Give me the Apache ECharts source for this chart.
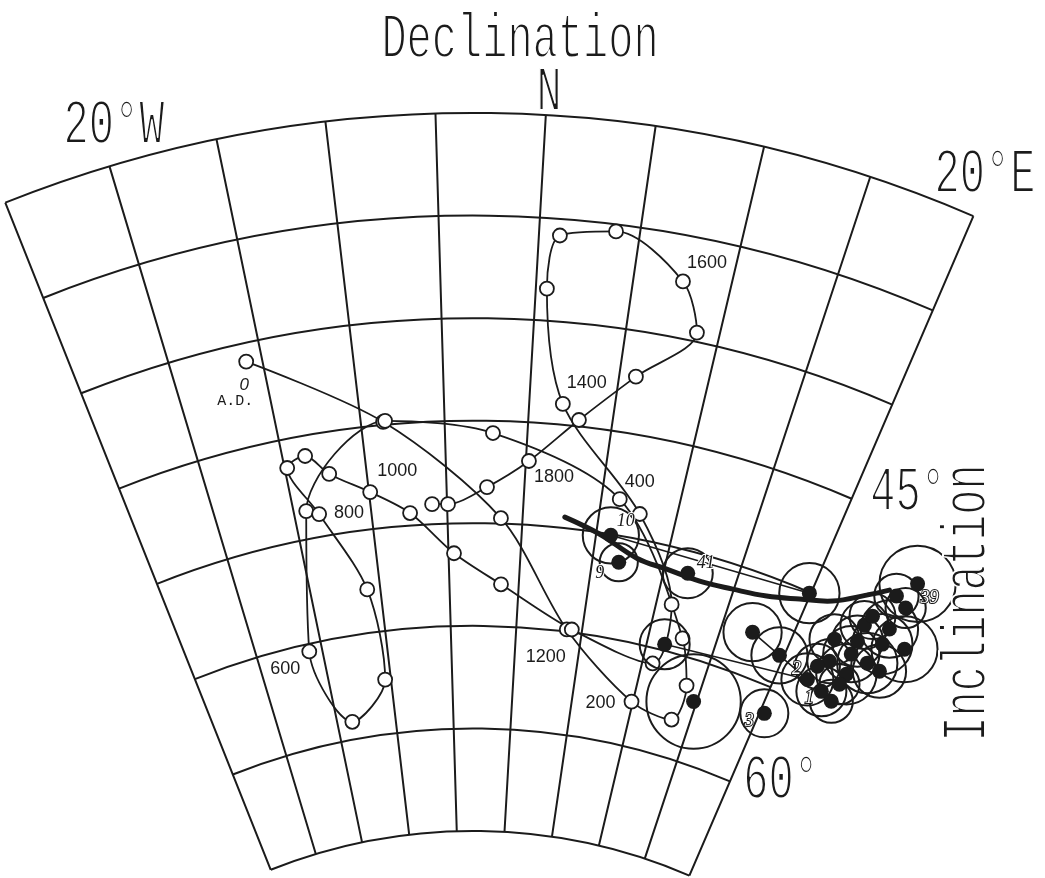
<!DOCTYPE html>
<html>
<head>
<meta charset="utf-8">
<title>Declination / Inclination</title>
<script src="https://cdn.jsdelivr.net/npm/echarts@6.0.0/dist/echarts.min.js"></script>
<style>
  html, body { margin: 0; padding: 0; background: #fff; }
  #main { width: 1045px; height: 878px; }
</style>
</head>
<body>
<div id="main"></div>
<script>
// secular variation curve, one open circle every 50 years
var curveYears = [0, 50, 100, 150, 200, 250, 300, 350, 400, 450,
    500, 550, 600, 650, 700, 750, 800, 850, 900, 950,
    1000, 1050, 1100, 1150, 1200, 1250, 1300, 1350, 1400, 1450,
    1500, 1550, 1600, 1650, 1700, 1750, 1800, 1850, 1900, 1950];
var curveDecl = [-15.88, -8.67, -1.44, 3.84, 9.89, 13.48, 13.84, 12.52, 6.18, -2.09,
    -8.55, -14.19, -16.00, -13.72, -10.47, -10.94, -13.40, -14.84, -13.62, -12.34,
    -9.92, -7.46, -4.62, -1.28, 4.22, 10.81, 11.10, 7.63, 1.97, 0.58,
    1.05, 3.81, 7.54, 8.79, 5.94, 3.01, 0.19, -2.40, -4.94, -5.98];
var curveIncl = [40.90, 44.85, 49.73, 54.89, 57.80, 58.14, 56.34, 54.19, 48.23, 45.59,
    44.81, 48.63, 55.36, 59.14, 57.35, 52.88, 48.89, 46.39, 45.98, 47.04,
    48.19, 49.39, 51.45, 52.95, 54.86, 55.75, 52.73, 48.77, 43.98, 38.44,
    35.81, 35.34, 37.24, 39.55, 42.21, 44.68, 46.88, 48.23, 49.05, 49.02];
var labelledYears = [0, 200, 400, 600, 800, 1000, 1200, 1400, 1600, 1800];

// site results (filled dots) with their alpha95 in degrees
var sampleName = ['10', '9', '41', '', '', '3', '', '', '', '2', '1', '', '', '',
    '', '', '', '', '', '', '39', '', '', '', '', '', '', '', ''];
var sampleDecl = [5.99, 6.83, 11.64, 11.34, 14.76, 20.37, 17.25, 19.68, 19.90, 22.28, 23.60, 22.77,
    24.29, 24.17, 25.85, 27.33, 24.65, 23.14, 25.58, 25.13, 25.94, 26.03, 24.54, 24.37,
    22.52, 24.25, 25.77, 26.60, 24.60];
var sampleIncl = [50.04, 51.27, 51.06, 54.70, 56.98, 56.29, 52.84, 53.40, 50.04, 53.91, 54.13, 51.57,
    51.85, 50.30, 50.70, 50.38, 52.83, 52.64, 51.87, 48.31, 47.30, 48.61, 53.42, 49.73,
    53.12, 51.15, 49.89, 51.92, 54.34];
var sampleA95 = [1.37, 0.93, 1.22, 1.22, 2.30, 1.17, 1.42, 1.37, 1.47, 1.27, 1.22, 1.22,
    1.37, 1.17, 1.47, 1.61, 1.47, 1.08, 1.47, 1.08, 1.86, 0.98, 0.98, 1.12,
    1.10, 1.25, 1.40, 1.30, 1.05];

// heavy trend line through the site results
var trendDecl = [2.79, 5.25, 8.00, 10.17, 12.58, 14.92, 17.28, 19.45, 21.53, 23.39, 24.56];
var trendIncl = [49.46, 50.07, 50.91, 51.12, 51.28, 51.18, 50.95, 50.49, 49.93, 48.95, 48.22];

// thin joins between some of the site results
var linkA = { decl: [5.99, 19.90], incl: [50.04, 50.04] };
var linkB = { decl: [11.34, 22.28], incl: [54.70, 53.91] };
var linkC = { decl: [17.25, 19.68, 22.28], incl: [52.84, 53.40, 53.91] };

// axis texts
var declTickLabels = ['20°W', 'N', '20°E'];
var inclTickLabels = ['45°', '60°'];

var INK = '#1b1b1b';
var R_IN = 547, R_OUT = 1265;
var PX_PER_DEG = (R_OUT - R_IN) / 35;

// where the year labels sit next to their circle
var yearLabelOffset = {
    0: [-11, 31], 200: [-31, 1], 400: [20, -17], 600: [-24, 18], 800: [30, -1],
    1000: [27, -21], 1200: [-26, 28], 1400: [24, -21], 1600: [24, -18], 1800: [25, 16]
};
var sampleLabelOffset = {
    '10': [15, -14], '9': [-19, 11], '41': [18, -10], '39': [12, 14],
    '2': [-11, -10], '1': [-12, 7], '3': [-15, 8]
};

function pairs(incl, decl) {
    return incl.map(function (v, i) { return [v, decl[i]]; });
}

var curveData = curveYears.map(function (yr, i) {
    var item = { value: [curveIncl[i], curveDecl[i]] };
    if (labelledYears.indexOf(yr) >= 0) {
        item.label = {
            show: true,
            position: 'inside',
            offset: yearLabelOffset[yr],
            formatter: yr === 0 ? '{a|0}\n{b|A.D.}' : String(yr)
        };
    }
    return item;
});

var dotData = sampleDecl.map(function (d, i) {
    var item = { value: [sampleIncl[i], d] };
    var name = sampleName[i];
    if (name) {
        var white = (name === '2' || name === '1' || name === '3' || name === '39');
        item.label = {
            show: true,
            position: 'inside',
            offset: sampleLabelOffset[name],
            formatter: name,
            color: white ? '#fff' : INK,
            textBorderColor: white ? INK : '#fff',
            textBorderWidth: 2
        };
    }
    return item;
});

var circleData = sampleDecl.map(function (d, i) {
    return [sampleIncl[i], d, sampleA95[i]];
});

// polylines drawn through the polar scales, not clipped to the sector
function pathSeries(incl, decl, width, smooth, z) {
    var pts = pairs(incl, decl);
    return {
        type: 'custom',
        coordinateSystem: 'polar',
        data: pts,
        silent: true,
        z: z,
        renderItem: function (params, api) {
            if (params.dataIndex !== 0) return null;
            return {
                type: 'polyline',
                shape: {
                    points: pts.map(function (p) { return api.coord(p); }),
                    smooth: smooth
                },
                style: { stroke: INK, lineWidth: width, fill: null, lineCap: 'round', lineJoin: 'round' }
            };
        }
    };
}

// thin plotter lettering: fill, then eat the edges with a white stroke
function bigText(text, x, y, rot) {
    var base = {
        x: x, y: y, rotation: rot || 0, scaleY: 1.5, silent: true
    };
    var style = {
        text: text,
        font: '42px "Liberation Mono"',
        align: 'center',
        verticalAlign: 'middle',
        textAlign: 'center',
        textVerticalAlign: 'middle'
    };
    var fillEl = Object.assign({ type: 'text', z: 10 }, base, {
        style: Object.assign({ fill: INK }, style)
    });
    var thinEl = Object.assign({ type: 'text', z: 11 }, base, {
        style: Object.assign({ fill: 'none', stroke: '#fff', lineWidth: 1.3 }, style)
    });
    return [fillEl, thinEl];
}

var chart = echarts.init(document.getElementById('main'));
chart.setOption({
    animation: false,
    backgroundColor: '#fff',
    polar: {
        center: [473, 1378],
        radius: [R_IN, R_OUT]
    },
    angleAxis: {
        type: 'value',
        min: -25,
        max: 20,
        interval: 5,
        startAngle: 111.7,
        endAngle: 66.7,
        clockwise: true,
        axisLine: { show: false },
        axisTick: { show: false },
        axisLabel: { show: false },
        splitLine: { show: true, lineStyle: { color: INK, width: 2 } }
    },
    radiusAxis: {
        type: 'value',
        min: 30,
        max: 65,
        interval: 5,
        inverse: true,
        axisLine: { show: false },
        axisTick: { show: false },
        axisLabel: { show: false },
        splitLine: { show: true, lineStyle: { color: INK, width: 2 } }
    },
    graphic: [].concat(
        bigText('Declination', 520, 40),
        bigText(declTickLabels[1], 549, 93),
        bigText(declTickLabels[0], 114, 126),
        bigText(declTickLabels[2], 985, 175),
        bigText(inclTickLabels[0], 908, 493),
        bigText(inclTickLabels[1], 781, 781),
        bigText('Inclination', 968, 603, Math.PI / 2)
    ),
    series: [
        {
            type: 'line',
            coordinateSystem: 'polar',
            data: curveData,
            smooth: 0.3,
            silent: true,
            symbol: 'circle',
            symbolSize: 14,
            lineStyle: { color: INK, width: 1.8 },
            itemStyle: { color: '#fff', borderColor: INK, borderWidth: 1.8 },
            label: {
                color: INK,
                fontSize: 18,
                fontFamily: 'Liberation Sans',
                rich: {
                    a: { fontSize: 17, fontFamily: 'Liberation Sans', fontStyle: 'italic', padding: [0, 0, 0, 18], color: INK },
                    b: { fontSize: 15, fontFamily: 'Liberation Mono', color: INK }
                }
            },
            z: 2
        },
        pathSeries(trendIncl, trendDecl, 5, 0.4, 4),
        pathSeries(linkA.incl, linkA.decl, 1.6, 0, 3),
        pathSeries(linkB.incl, linkB.decl, 1.6, 0, 3),
        pathSeries(linkC.incl, linkC.decl, 1.6, 0, 3),
        {
            type: 'scatter',
            coordinateSystem: 'polar',
            data: circleData,
            clip: false,
            silent: true,
            symbol: 'circle',
            symbolSize: function (v) { return v[2] * 2 * PX_PER_DEG; },
            itemStyle: { color: 'rgba(0,0,0,0)', borderColor: INK, borderWidth: 2, opacity: 1 },
            z: 5
        },
        {
            type: 'scatter',
            coordinateSystem: 'polar',
            data: dotData,
            clip: false,
            silent: true,
            symbol: 'circle',
            symbolSize: 15,
            itemStyle: { color: INK, opacity: 1 },
            label: {
                fontSize: 18,
                fontFamily: 'Liberation Serif',
                fontStyle: 'italic'
            },
            z: 6
        }
    ]
});
</script>
</body>
</html>
